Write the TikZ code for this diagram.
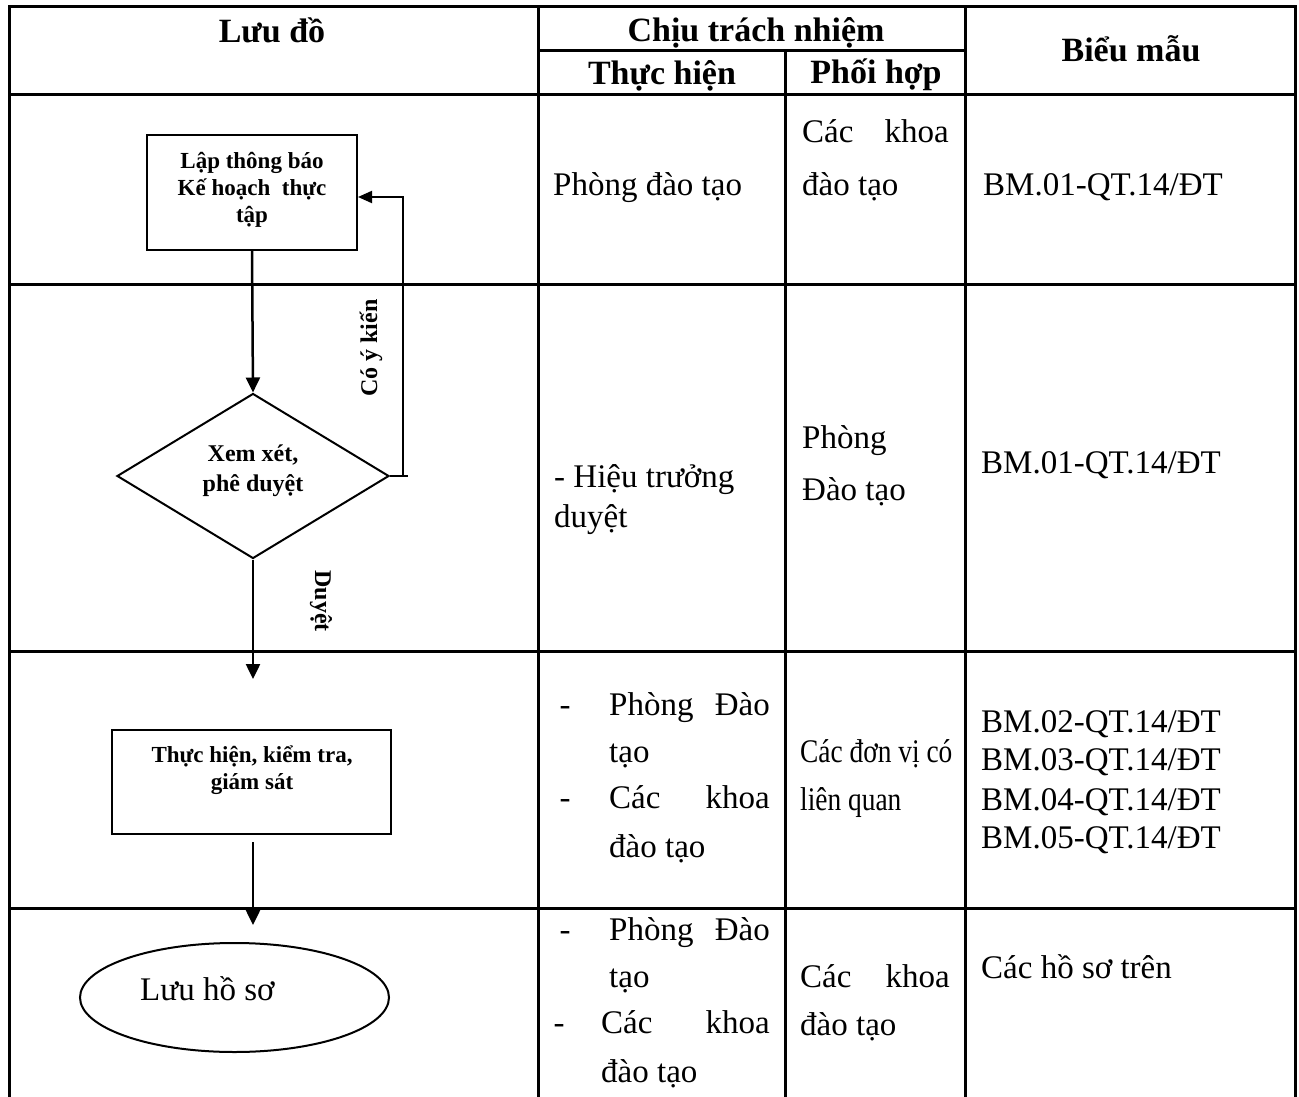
\documentclass[tikz,border=0pt]{standalone}
\usepackage{fontspec}
\usepackage{graphicx}
\setmainfont{Liberation Serif}
\usetikzlibrary{shapes.geometric,arrows.meta}
\begin{document}
\begin{tikzpicture}[x=1pt,y=-1pt,
  grid/.style={line width=3pt, line join=miter},
  hdr/.style={font=\fontsize{34}{40}\selectfont\bfseries, inner sep=0pt, anchor=base},
  body/.style={font=\fontsize{33}{40}\selectfont, inner sep=0pt, anchor=base west},
  bodyE/.style={body, anchor=base east},
  dashc/.style={font=\fontsize{33}{40}\selectfont, inner sep=0pt, anchor=base},
  ftxt/.style={font=\fontsize{23}{27}\selectfont\bfseries, align=center, inner sep=0pt},
  dtxt/.style={font=\fontsize{24}{30}\selectfont\bfseries, align=center, inner sep=0pt},
  lbl/.style={font=\fontsize{24}{28}\selectfont\bfseries, inner sep=0pt},
  fbox/.style={draw, line width=2pt, rectangle, inner sep=0pt},
  arr/.style={line width=2.5pt, -{Triangle[length=15pt,width=14pt]}},
  ln/.style={line width=2pt},
]
\useasboundingbox (0,0) rectangle (1299,1097);
\fill[white] (0,0) rectangle (1299,1097);

% ---------- table grid ----------
\draw[grid] (9,1097) -- (9,7) -- (1295,7) -- (1295,1097);
\draw[grid] (9,95) -- (1295,95);
\draw[grid] (9,284) -- (1295,284);
\draw[grid] (9,651) -- (1295,651);
\draw[grid] (9,908) -- (1295,908);
\draw[grid] (538,51) -- (965,51);
\draw[grid] (538,7) -- (538,1097);
\draw[grid] (965,7) -- (965,1097);
\draw[grid] (785,51) -- (785,1097);

% ---------- header ----------
\node[hdr] (hLuu) at (272,43) {Lưu đồ};
\node[hdr] (hChiu) at (756,42) {Chịu trách nhiệm};
\node[hdr] (hThuc) at (662,85) {Thực hiện};
\node[hdr] (hPhoi) at (876,84) {Phối hợp};
\node[hdr] (hBieu) at (1131,62) {Biểu mẫu};

% ---------- row 1 ----------
\node[body] (r1a) at (553,196) {Phòng đào tạo};
\node[body] (r1b1) at (802,143) {Các};
\node[bodyE] (r1b2) at (949,143) {khoa};
\node[body] (r1b3) at (802,195) {đào tạo};
\node[body] (r1c) at (983,196) {BM.01-QT.14/ĐT};

% ---------- row 2 ----------
\node[body] (r2a1) at (554,487) {- Hiệu trưởng};
\node[body] (r2a2) at (554,527) {duyệt};
\node[body] (r2b1) at (802,448) {Phòng};
\node[body] (r2b2) at (802,500) {Đào tạo};
\node[body] (r2c) at (981,473) {BM.01-QT.14/ĐT};

% ---------- row 3 ----------
\node[dashc] (r3d1) at (565,715) {-};
\node[body] (r3a1) at (609,715) {Phòng};
\node[bodyE] (r3a2) at (770,715) {Đào};
\node[body] (r3a3) at (609,762) {tạo};
\node[dashc] (r3d2) at (565,808) {-};
\node[body] (r3a4) at (609,808) {Các};
\node[bodyE] (r3a5) at (770,808) {khoa};
\node[body] (r3a6) at (609,857) {đào tạo};
\node[body] (r3b1) at (800,762) {\scalebox{0.83}[1]{Các đơn vị có}};
\node[body] (r3b2) at (800,810) {\scalebox{0.83}[1]{liên quan}};
\node[body] (r3c1) at (981,732) {BM.02-QT.14/ĐT};
\node[body] (r3c2) at (981,770) {BM.03-QT.14/ĐT};
\node[body] (r3c3) at (981,810) {BM.04-QT.14/ĐT};
\node[body] (r3c4) at (981,848) {BM.05-QT.14/ĐT};

% ---------- row 4 ----------
\node[dashc] (r4d1) at (565,940) {-};
\node[body] (r4a1) at (609,940) {Phòng};
\node[bodyE] (r4a2) at (770,940) {Đào};
\node[body] (r4a3) at (609,987) {tạo};
\node[dashc] (r4d2) at (559,1033) {-};
\node[body] (r4a4) at (601,1033) {Các};
\node[bodyE] (r4a5) at (770,1033) {khoa};
\node[body] (r4a6) at (601,1082) {đào tạo};
\node[body] (r4b1) at (800,987) {Các};
\node[bodyE] (r4b2) at (950,987) {khoa};
\node[body] (r4b3) at (800,1035) {đào tạo};
\node[body] (r4c) at (981,978) {Các hồ sơ trên};

% ---------- flowchart ----------
\node[fbox, minimum width=210pt, minimum height=115pt] (box1) at (252,192.5) {};
\node[ftxt] (box1txt) at (252,190) {Lập thông báo\\Kế hoạch\ \ thực\\tập};

\node[draw, diamond, line width=2pt, minimum width=272pt, minimum height=165pt, inner sep=0pt] (dia) at (253,476) {};
\node[dtxt] (diatxt) at (253,471) {Xem xét,\\phê duyệt};

\node[fbox, minimum width=279pt, minimum height=104pt] (box2) at (251.5,782) {};
\node[ftxt] (box2txt) at (252,770) {Thực hiện, kiểm tra,\\giám sát};

\node[draw, ellipse, line width=2pt, minimum width=309pt, minimum height=109pt, inner sep=0pt] (ell) at (234.5,997.5) {};
\node[body] (elltxt) at (140,1000) {Lưu hồ sơ};

% connectors
\draw[arr] (box1.south) -- (dia.north);

\coordinate (fbA) at (408,476);
\coordinate (fbC) at (403,476);
\coordinate (fbB) at (403,197);
\draw[ln] (dia.east) -- (fbA);
\draw[ln, -{Triangle[length=14pt,width=12pt]}] (fbC) -- (fbB) -- (box1.east |- fbB);

\coordinate (a2) at (253,679);
\draw[arr] (dia.south) -- (a2);

\coordinate (a3s) at (253,842);
\coordinate (a3) at (253,925);
\draw[arr] (a3s) -- (a3);

\node[lbl, rotate=90] (coyk) at (371,348) {Có ý kiến};
\node[lbl, rotate=-90] (duyet) at (321,601) {Duyệt};
\end{tikzpicture}
\end{document}
